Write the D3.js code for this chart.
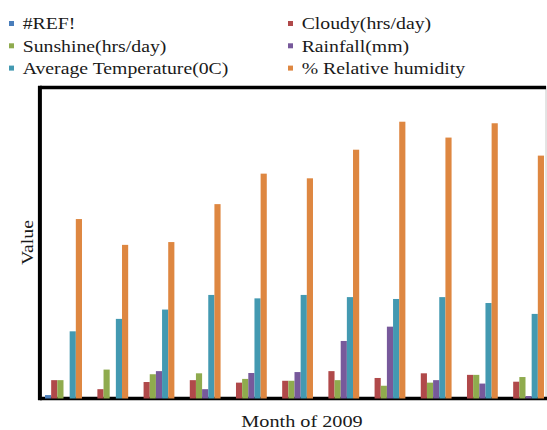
<!DOCTYPE html>
<html>
<head>
<meta charset="utf-8">
<script src="https://cdn.jsdelivr.net/npm/d3@7"></script>
<style>
  html, body { margin: 0; padding: 0; background: #fff; }
  svg { display: block; }
</style>
</head>
<body>
<svg id="chart" width="547" height="430"></svg>
<script>
// Monthly weather readings, 2009
const months = ["Jan", "Feb", "Mar", "Apr", "May", "Jun", "Jul", "Aug", "Sep", "Oct", "Nov"];
const seriesNames = ["#REF!", "Cloudy(hrs/day)", "Sunshine(hrs/day)", "Rainfall(mm)", "Average Temperature(0C)", "% Relative humidity"];
const seriesColors = ["#4a7ebb", "#b0494a", "#8fab4e", "#77599b", "#4399b1", "#de8741"];

const refValues       = [1.1, 0, 0, 0, 0, 0, 0, 0, 0, 0, 0];
const cloudyHours     = [5.9, 3.0, 5.3, 5.9, 5.1, 5.7, 8.8, 6.6, 8.1, 7.6, 5.4];
const sunshineHours   = [5.9, 9.3, 7.8, 8.1, 6.3, 5.7, 5.9, 4.1, 5.1, 7.6, 6.9];
const rainfallMm      = [0, 0, 8.8, 3.0, 8.2, 8.5, 18.5, 23.1, 5.9, 4.8, 0.8];
const avgTemperature  = [21.6, 25.6, 28.6, 33.3, 32.2, 33.3, 32.6, 32.0, 32.6, 30.7, 27.2];
const relHumidity     = [57.7, 49.4, 50.3, 62.5, 72.3, 70.8, 80.0, 89.0, 83.9, 88.5, 78.1];

const seriesValues = [refValues, cloudyHours, sunshineHours, rainfallMm, avgTemperature, relHumidity];

const FONT = "'Liberation Serif', 'Times New Roman', Times, 'DejaVu Serif', serif";
const INK = "#1a1a1a";

const svg = d3.select("#chart");

// Plot area
const plot = { left: 40.4, right: 548.6, top: 87.5, bottom: 398.5, edge: 546 };

const x0 = d3.scaleBand().domain(months).range([plot.left, plot.right])
  .paddingInner(0.2).paddingOuter(0.1);
const x1 = d3.scaleBand().domain(seriesNames).range([0, x0.bandwidth()]);
const y = d3.scaleLinear().domain([0, 100]).range([plot.bottom, plot.top]);

// Frame: heavy left/top/bottom rules, faint right edge
svg.append("line").attr("x1", plot.edge).attr("x2", plot.edge)
  .attr("y1", plot.top - 1.5).attr("y2", plot.bottom + 1.5)
  .attr("stroke", "#c8c8c8").attr("stroke-width", 1);
svg.append("line").attr("x1", plot.left - 0.5).attr("x2", plot.edge)
  .attr("y1", plot.top).attr("y2", plot.top)
  .attr("stroke", "#000").attr("stroke-width", 3.5);
svg.append("line").attr("x1", plot.left - 0.5).attr("x2", 547)
  .attr("y1", plot.bottom).attr("y2", plot.bottom)
  .attr("stroke", "#000").attr("stroke-width", 3.5);
svg.append("line").attr("x1", plot.left - 0.5).attr("x2", plot.left - 0.5)
  .attr("y1", plot.top - 1.75).attr("y2", plot.bottom + 1.75)
  .attr("stroke", "#000").attr("stroke-width", 4);

// Bars
const rows = months.map((m, i) => ({ month: m, vals: seriesNames.map((s, k) => ({ series: s, k, v: seriesValues[k][i] })) }));
const groups = svg.append("g").selectAll("g").data(rows).join("g")
  .attr("transform", d => `translate(${x0(d.month)},0)`);
groups.selectAll("rect").data(d => d.vals.filter(e => e.v > 0)).join("rect")
  .attr("x", d => x1(d.series))
  .attr("width", x1.bandwidth())
  .attr("y", d => y(d.v))
  .attr("height", d => y(0) - y(d.v))
  .attr("fill", d => seriesColors[d.k]);

// Text helper: serif type, slightly widened
const stretch = 1.19;
function widen(sel) {
  sel.each(function () {
    const w = this.getComputedTextLength();
    d3.select(this).attr("textLength", w * stretch).attr("lengthAdjust", "spacingAndGlyphs");
  });
}

// Legend in two columns
const legendCols = [9, 288];
const legendRows = [29.3, 51.6, 73.9];
const legend = svg.append("g").selectAll("g").data(seriesNames).join("g")
  .attr("transform", (d, i) => `translate(${legendCols[i % 2]},${legendRows[Math.floor(i / 2)]})`);
legend.append("rect").attr("x", 0).attr("y", -8.3).attr("width", 5).attr("height", 5)
  .attr("fill", (d, i) => seriesColors[i]);
legend.append("text").attr("x", 13.7).attr("y", 0)
  .attr("font-family", FONT).attr("font-size", 16.6).attr("fill", INK)
  .text(d => d)
  .call(widen);

// Axis titles
svg.append("text").attr("x", 302).attr("y", 427).attr("text-anchor", "middle")
  .attr("font-family", FONT).attr("font-size", 17).attr("fill", INK)
  .text("Month of 2009").call(widen);

svg.append("text").attr("transform", "translate(32.5,242.5) rotate(-90)")
  .attr("text-anchor", "middle")
  .attr("font-family", FONT).attr("font-size", 16.6).attr("fill", INK)
  .text("Value").call(widen);
</script>
</body>
</html>
